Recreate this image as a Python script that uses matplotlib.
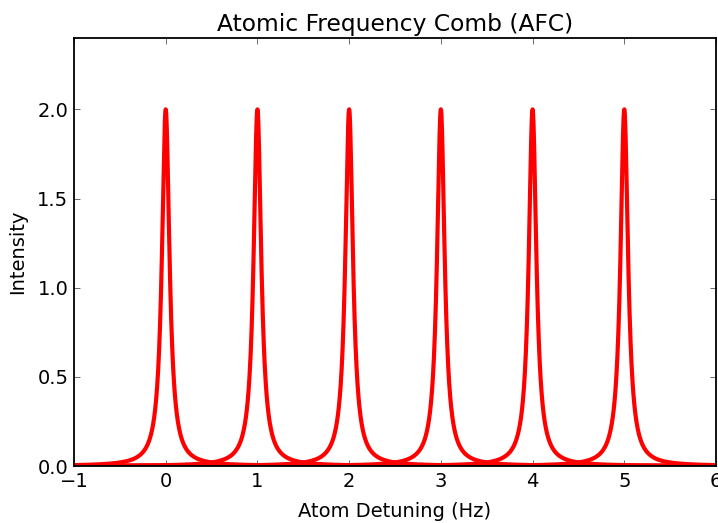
import numpy as np
import matplotlib
matplotlib.use('Agg')
import matplotlib.pyplot as plt

# comb tooth centres (Hz), peak height and half width
centers = [0, 1, 2, 3, 4, 5]
peak_height = 2.0
half_width = 0.05
x_range = (-1, 6)

x = np.linspace(x_range[0], x_range[1], 4000)

fig = plt.figure(figsize=(7.18, 5.23), dpi=100)
ax = fig.add_axes([74 / 718, 57 / 523, 642 / 718, 428 / 523])

for c in centers:
    y = peak_height * half_width**2 / ((x - c)**2 + half_width**2)
    ax.plot(x, y, color='red', linewidth=3)

ax.set_xlim(x_range)
ax.set_ylim(0, 2.4)
ax.set_yticks([0.0, 0.5, 1.0, 1.5, 2.0])
ax.set_yticklabels(['0.0', '0.5', '1.0', '1.5', '2.0'])
ax.tick_params(direction='in', top=True, right=True, length=4, width=0.6,
               color='#555555', labelsize=14, pad=4)
for s in ax.spines.values():
    s.set_linewidth(1.3)

ax.set_title('Atomic Frequency Comb (AFC)', fontsize=16.8, pad=5)
ax.set_xlabel('Atom Detuning (Hz)', fontsize=14, labelpad=8)
ax.set_ylabel('Intensity', fontsize=14, labelpad=7)

fig.savefig('out.png', dpi=100)
